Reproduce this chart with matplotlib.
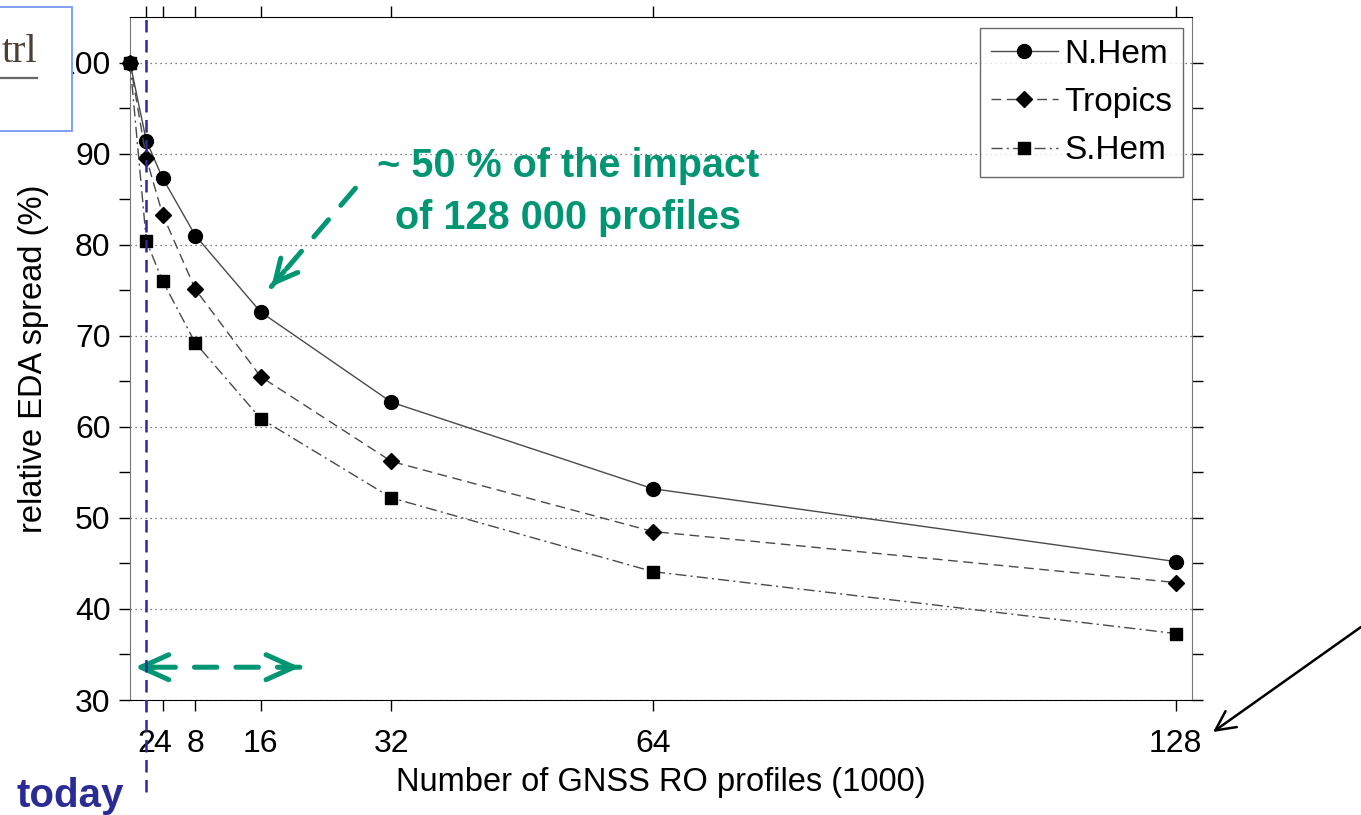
import matplotlib
matplotlib.use("Agg")
import matplotlib.pyplot as plt
from matplotlib.patches import Rectangle, FancyArrowPatch
from matplotlib.lines import Line2D

plt.rcParams['font.family'] = ['Liberation Sans', 'DejaVu Sans']

# ---- data ----
profiles = [0, 2, 4, 8, 16, 32, 64, 128]
nhem = [100, 91.4, 87.3, 81.0, 72.6, 62.7, 53.2, 45.2]
tropics = [100, 89.5, 83.3, 75.1, 65.5, 56.2, 48.5, 42.9]
shem = [100, 80.4, 76.0, 69.2, 60.9, 52.2, 44.1, 37.3]
xtick_vals = [2, 4, 8, 16, 32, 64, 128]
xtick_labels = ['2', '4', '8', '16', '32', '64', '128']
ytick_vals = [30, 40, 50, 60, 70, 80, 90, 100]
ytick_labels = ['30', '40', '50', '60', '70', '80', '90', '100']
today_x = 2

GREEN = '#009673'
NAVY = '#2b2b96'
LINEC = '#4a4a4a'

fig = plt.figure(figsize=(13.61, 8.15), dpi=100)
ax = fig.add_axes([130/1361, 1-700/815, (1192-130)/1361, (700-17)/815])

ax.plot(profiles, nhem, ls='-', color=LINEC, lw=1.0, marker='o', ms=10,
        mfc='black', mec='black', label='N.Hem', clip_on=False, zorder=4)
ax.plot(profiles, tropics, ls=(0, (7, 4)), color=LINEC, lw=1.0, marker='D', ms=8.5,
        mfc='black', mec='black', label='Tropics', clip_on=False, zorder=4)
ax.plot(profiles, shem, ls=(0, (8, 3, 1.5, 3)), color=LINEC, lw=1.0, marker='s', ms=8,
        mfc='black', mec='black', label='S.Hem', clip_on=False, zorder=4)

ax.set_xlim(0, 130)
ax.set_ylim(30, 105)
ax.set_xticks(xtick_vals)
ax.set_xticklabels(xtick_labels)
ax.set_yticks(ytick_vals)
ax.set_yticklabels(ytick_labels)
ax.set_yticks([35, 45, 55, 65, 75, 85, 95], minor=True)
ax.tick_params(axis='both', which='major', labelsize=23, direction='out', length=8, width=1.0)
ax.tick_params(axis='y', which='minor', direction='out', length=8, width=1.0, right=True)
ax.tick_params(axis='y', which='major', right=True, pad=6)
ax.tick_params(axis='x', which='major', top=True, pad=13)

for s in ['left', 'right']:
    ax.spines[s].set_color('#777777')
for s in ['top', 'bottom']:
    ax.spines[s].set_color('black')

ax.grid(axis='y', which='major', ls=(0, (1, 3)), color='#555555', lw=0.9)
ax.set_axisbelow(True)

ax.set_xlabel('Number of GNSS RO profiles (1000)', fontsize=23.5, labelpad=6)
ax.set_ylabel('relative EDA spread (%)', fontsize=23.5, labelpad=6)

leg = ax.legend(loc='upper right', bbox_to_anchor=(0.9915, 0.984), fontsize=24,
                frameon=True, fancybox=False, edgecolor='#444444',
                handlelength=2.0, handletextpad=0.2, labelspacing=0.52,
                borderpad=0.32, borderaxespad=0.0)
leg.get_frame().set_linewidth(1.0)

# today line
ax.axvline(today_x, ymin=-0.135, ymax=1.0, color=NAVY, ls=(0, (5, 3)), lw=1.8,
           clip_on=False, zorder=5)
fig.text(70/1361, 1-796/815, 'today', color=NAVY, fontsize=29, fontweight='bold',
         ha='center', va='center')

HEAD = '->,head_length=2.0,head_width=0.9'
# green double dashed arrow
ax.annotate('', xy=(0.6, 33.6), xytext=(20.8, 33.6),
            arrowprops=dict(arrowstyle='-', color=GREEN, lw=3.6,
                            linestyle=(0, (4.5, 3.8)), shrinkA=0, shrinkB=0))
ax.annotate('', xy=(0.6, 33.6), xytext=(3.0, 33.6),
            arrowprops=dict(arrowstyle=HEAD, color=GREEN, lw=3.6, shrinkA=0, shrinkB=0))
ax.annotate('', xy=(20.8, 33.6), xytext=(18.4, 33.6),
            arrowprops=dict(arrowstyle=HEAD, color=GREEN, lw=3.6, shrinkA=0, shrinkB=0))

# green diagonal arrow to the 16k point
ax.annotate('', xy=(17.3, 75.4), xytext=(27.6, 86.2),
            arrowprops=dict(arrowstyle='-', color=GREEN, lw=3.6,
                            linestyle=(0, (4.5, 3.8)), shrinkA=0, shrinkB=0))
ax.annotate('', xy=(17.3, 75.4), xytext=(18.9, 77.1),
            arrowprops=dict(arrowstyle='->,head_length=1.6,head_width=0.8', color=GREEN,
                            lw=3.6, shrinkA=0, shrinkB=0))
ax.text(53.6, 85.8, '~ 50 % of the impact\nof 128 000 profiles', color=GREEN,
        fontsize=28.5, fontweight='bold', ha='center', va='center', linespacing=1.45)

# black arrow from the right
fig.patches.append(FancyArrowPatch(
    (1.0, 1-627/815), (1213/1361, 1-732/815), transform=fig.transFigure,
    arrowstyle='->,head_length=14,head_width=7', color='black', lw=1.8,
    shrinkA=0, shrinkB=0, mutation_scale=1))

# partial "trl" box at top left
fig.patches.append(Rectangle((-0.01, 1-131/815), 72/1361 + 0.01, (131-7)/815,
                             transform=fig.transFigure, facecolor='white',
                             edgecolor='#7f9fff', lw=1.4, zorder=10))
fig.text(37/1361, 1-62/815, 'trl', fontsize=29, family=['Liberation Serif', 'DejaVu Serif'],
         color='#4a4035', ha='right', va='baseline', zorder=11)
fig.add_artist(Line2D([0, 37/1361], [1-78/815, 1-78/815], transform=fig.transFigure,
                      color='#666666', lw=1.6, zorder=11))

fig.savefig('out.png', dpi=100)
